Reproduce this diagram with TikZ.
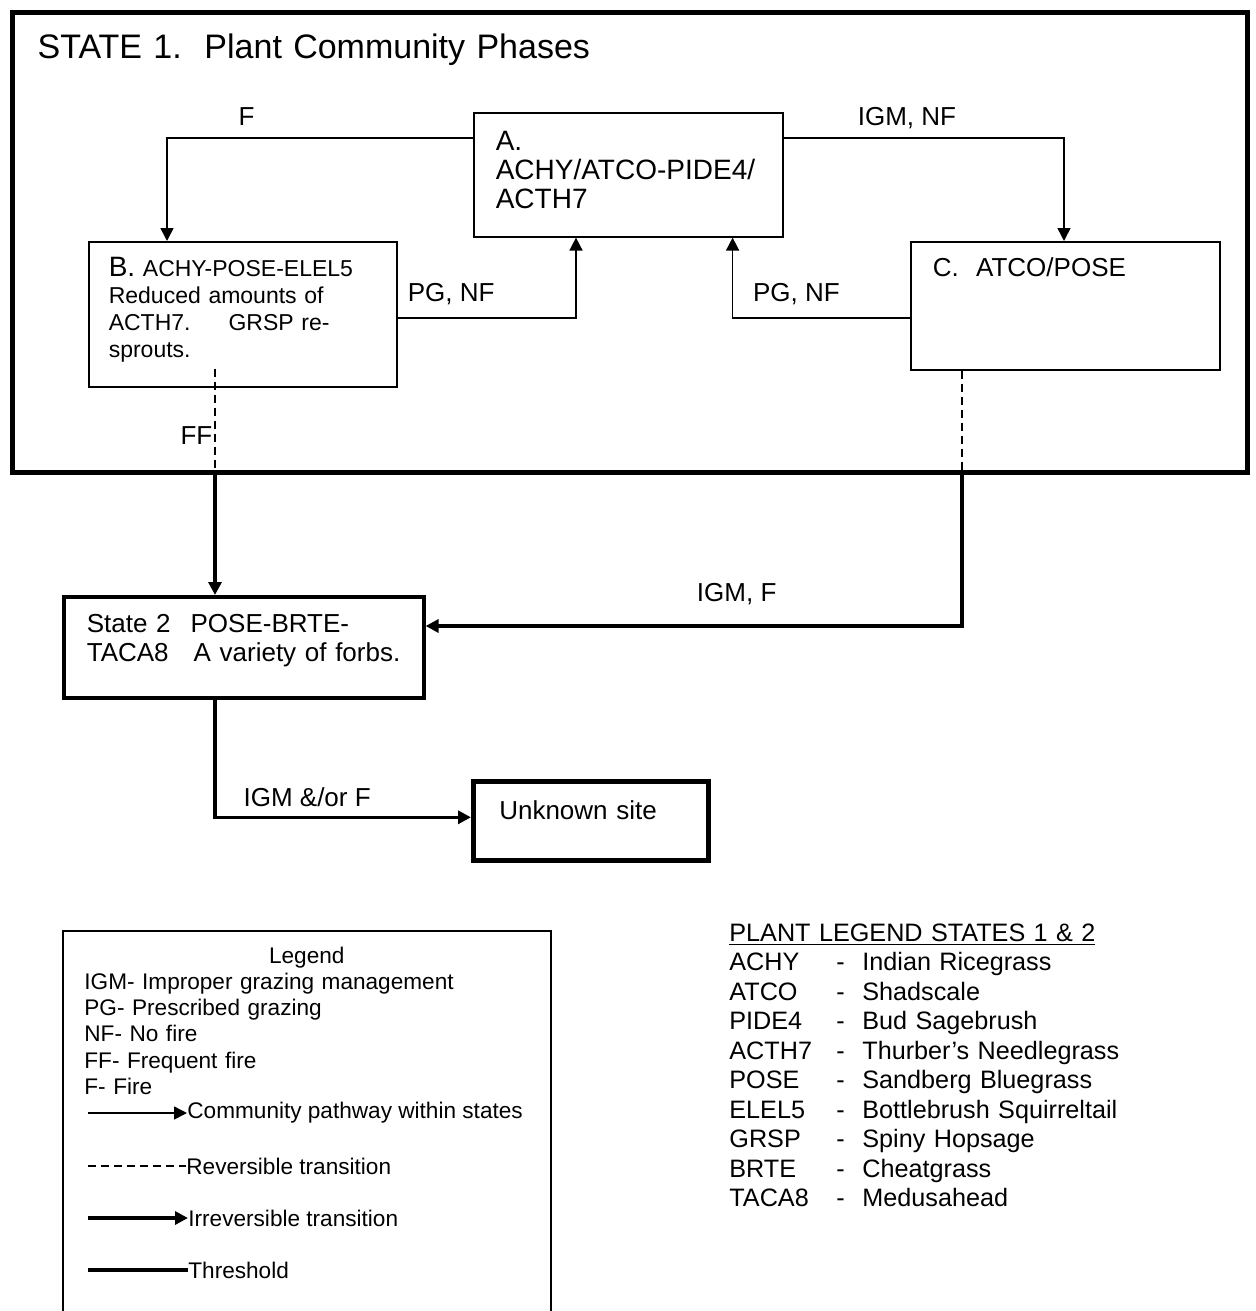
\documentclass[tikz,border=0pt]{standalone}
\usepackage{fontspec}
\setmainfont{Liberation Sans}
\usetikzlibrary{arrows.meta}
\def\fsize#1#2{\fontsize{#1}{#2}\selectfont}
\def\plantrow#1#2{\makebox[53.5pt][l]{#1}\makebox[13pt][l]{-}#2}

\begin{document}
\begin{tikzpicture}[x=0.5pt, y=-0.5pt,
		phase/.style={draw, line width=0.8pt, anchor=north west, align=left, inner ysep=0pt},
		pathway/.style={line width=0.8pt, -{Triangle[length=6.5pt, width=6.5pt]}},
		reversible/.style={line width=0.7pt, dash pattern=on 4pt off 2.5pt},
		irreversible/.style={line width=1.7pt, -{Triangle[length=6.5pt, width=6.5pt]}},
		threshold/.style={line width=2.4pt},
		lbl/.style={font=\fsize{13}{14}},
		legtext/.style={font=\fsize{11.3}{13.1}, inner sep=0pt}]
			%%%%% START %%%%%
			
			\useasboundingbox (0, 0) rectangle (1255, 1311);
			
			\node[phase, line width=2.6pt, inner xsep=12.5pt, text width=592.5pt, text height=23pt, text depth=207pt, font=\fsize{17}{20}] (state1) at (10, 10) {STATE 1.\ \ Plant Community Phases};
			
			\node[phase, inner xsep=11pt, text width=132.5pt, text height=19pt, text depth=43pt, font=\fsize{14}{14.5}] (A) at (473, 112) {A.\\ACHY/ATCO-PIDE4/\\ACTH7};
			\node[phase, inner xsep=10pt, text width=134pt, text height=17.5pt, text depth=55pt, font=\fsize{11.5}{13.5}] (B) at (88, 241) {{\fsize{14}{13.5}B.} ACHY-POSE-ELEL5\\Reduced amounts of\\ACTH7.\hspace{19pt}GRSP re-\\sprouts.};
			\node[phase, inner xsep=11pt, text width=132.5pt, text height=17.5pt, text depth=46.5pt, font=\fsize{13}{14}] (C) at (910, 241) {C.\ \ ATCO/POSE};
			
			\node[phase, line width=1.8pt, inner xsep=11.5pt, text width=157pt, text height=18pt, text depth=32.5pt, font=\fsize{13}{14.5}] (S2) at (62, 595) {State 2\hspace{10pt}POSE-BRTE-\\TACA8\hspace{12.5pt}A variety of forbs.};
			\node[phase, line width=2.3pt, inner xsep=13pt, text width=91.5pt, text height=19pt, text depth=20.5pt, font=\fsize{13}{14}] (U) at (471, 779) {Unknown site};
			
			% pathways within state 1
			\draw[pathway] ([yshift=-13pt]A.north west) -| node[lbl, pos=0.37, above=2.5pt] {F} ([xshift=39.5pt]B.north west);
			\draw[pathway] ([yshift=-13pt]A.north east) -| node[lbl, pos=0.22, above=1pt] {IGM, NF} ([xshift=77pt]C.north west);
			\draw[pathway] ([yshift=-38.5pt]B.north east) -| node[lbl, pos=0.15, above=3pt] {PG, NF} ([xshift=51.5pt]A.south west);
			\draw[pathway] ([yshift=-38.5pt]C.north west) -| node[lbl, pos=0.32, above=3pt] {PG, NF} ([xshift=-25.5pt]A.south east);
			
			% transitions
			\coordinate (ff) at ([xshift=63.5pt]B.south west);
			\draw[reversible] ([yshift=9.5pt]ff) -- node[lbl, pos=0.63, left, inner sep=1pt] {FF} (ff |- state1.south);
			\draw[irreversible] (ff |- state1.south) -- (ff |- S2.north);
			
			\coordinate (cc) at ([xshift=26pt]C.south west);
			\draw[reversible] (cc) -- (cc |- state1.south);
			\draw[irreversible] (cc |- state1.south) |- node[lbl, pos=0.71, above=6.5pt] {IGM, F} ([yshift=-15.5pt]S2.north east);
			
			\draw[irreversible] ([xshift=76.5pt]S2.south west) |- node[lbl, pos=0.68, above=1pt] {IGM \&/or F} ([yshift=1.75pt]U.west);
			
			% legend
			\node[phase, inner xsep=6pt, text width=232pt, align=center, text height=16.5pt, text depth=183.5pt, font=\fsize{11.3}{13.1}] (legend) at (62, 930) {Legend};
			\node[legtext, anchor=north west, align=left, text width=220pt, text height=0pt] (abbr) at (84, 989) {IGM- Improper grazing management\\PG- Prescribed grazing\\NF- No fire\\FF- Frequent fire\\F- Fire};
			
			\coordinate (lpath0) at (88, 1113);
			\node[legtext, anchor=west] (lpath) at (187, 1113) {Community pathway within states};
			\draw[pathway] (lpath0) -- (lpath.west);
			
			\coordinate (lrev0) at (88, 1166);
			\node[legtext, anchor=west] (lrev) at (186, 1166) {Reversible transition};
			\draw[reversible] (lrev0) -- (lrev.west);
			
			\coordinate (lirr0) at (88, 1218);
			\node[legtext, anchor=west] (lirr) at (188, 1218) {Irreversible transition};
			\draw[irreversible] (lirr0) -- (lirr.west);
			
			\coordinate (lthr0) at (88, 1270);
			\node[legtext, anchor=west] (lthr) at (188, 1270) {Threshold};
			\draw[threshold] (lthr0) -- (lthr.west);
			
			% plant codes
			\node[anchor=north west, inner sep=0pt, align=left, text width=260pt, text height=0pt, font=\fsize{12.6}{14.75}] (plants) at (729, 941) {\underline{PLANT LEGEND STATES 1 \& 2}\\
				\plantrow{ACHY}{Indian Ricegrass}\\
				\plantrow{ATCO}{Shadscale}\\
				\plantrow{PIDE4}{Bud Sagebrush}\\
				\plantrow{ACTH7}{Thurber’s Needlegrass}\\
				\plantrow{POSE}{Sandberg Bluegrass}\\
				\plantrow{ELEL5}{Bottlebrush Squirreltail}\\
				\plantrow{GRSP}{Spiny Hopsage}\\
				\plantrow{BRTE}{Cheatgrass}\\
				\plantrow{TACA8}{Medusahead}};
			
			%%%%% END %%%%%
\end{tikzpicture}
\end{document}
